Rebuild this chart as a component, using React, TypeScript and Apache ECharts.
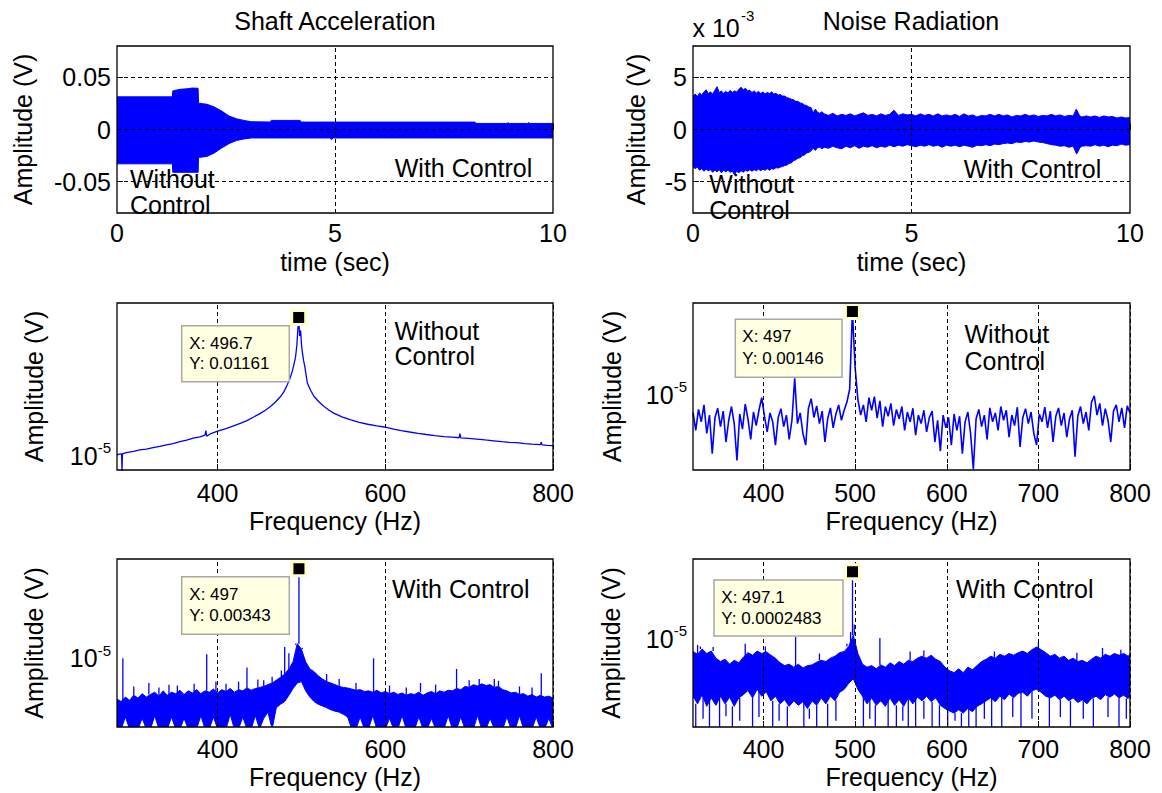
import React, { useEffect, useRef } from 'react';
import * as echarts from 'echarts';

const BLUE = '#0000ff';
const FONT_FAMILY = '"Liberation Sans", Arial, Helvetica, sans-serif';
const FS = 25;

// ---------- layout of the six axes boxes (pixels) ----------
const GRIDS = [
  { left: 117, top: 46, width: 436, height: 167 },
  { left: 693, top: 46, width: 437, height: 167 },
  { left: 117, top: 303, width: 436, height: 167 },
  { left: 693, top: 303, width: 437, height: 167 },
  { left: 117, top: 559, width: 436, height: 168 },
  { left: 693, top: 559, width: 437, height: 168 },
];

// ---------- tick labels ----------
const TIME_TICKS = [0, 5, 10];
const SHAFT_Y_TICKS = [-0.05, 0, 0.05];
const NOISE_Y_TICKS = [-5, 0, 5];
const FREQ_TICKS_LEFT = [400, 600, 800];
const FREQ_TICKS_RIGHT = [400, 500, 600, 700, 800];

// ---------- Shaft acceleration, time signal envelope [t (s), V] ----------
const SHAFT_UPPER = [
  [0, 0.0313], [1.27, 0.0313], [1.28, 0.037], [1.45, 0.0385], [1.6, 0.039], [1.72, 0.0397], [1.86, 0.0395],
  [1.87, 0.0252], [2.06, 0.0242], [2.23, 0.0216], [2.4, 0.0177], [2.57, 0.0129], [2.74, 0.0103], [2.91, 0.0087],
  [3.08, 0.0074], [3.5, 0.0072], [3.54, 0.0087], [4.2, 0.0087], [4.22, 0.0071], [8.2, 0.0071], [8.25, 0.0058],
  [8.95, 0.0058], [8.97, 0.0066], [9.0, 0.0058], [9.42, 0.0058], [9.44, 0.0066], [9.47, 0.0058], [10, 0.0058],
];
const SHAFT_LOWER = [
  [0, -0.0329], [1.27, -0.0329], [1.28, -0.041], [1.86, -0.041], [1.87, -0.0268], [2.06, -0.0258],
  [2.23, -0.0226], [2.4, -0.0177], [2.57, -0.0135], [2.74, -0.0106], [2.91, -0.009], [3.08, -0.0081],
  [4.88, -0.0081], [4.92, -0.0097], [4.96, -0.0081], [10, -0.0081],
];

// ---------- Noise radiation, time signal envelope [t (s), V x 1e-3] ----------
const NOISE_UPPER = [
  [0, 3.2], [0.05, 3.4], [0.1, 3.15], [0.15, 3.5], [0.2, 3.3], [0.25, 3.6], [0.3, 3.8], [0.35, 3.45],
  [0.4, 3.6], [0.45, 3.4], [0.5, 3.75], [0.55, 4.1], [0.6, 3.55], [0.65, 3.7], [0.7, 3.45], [0.75, 3.65],
  [0.8, 3.5], [0.85, 3.75], [0.9, 3.55], [0.95, 3.7], [1.0, 3.6], [1.05, 3.85], [1.1, 4.05], [1.15, 3.8],
  [1.2, 3.95], [1.25, 3.7], [1.3, 3.75], [1.35, 3.55], [1.4, 3.7], [1.45, 3.5], [1.5, 3.65], [1.55, 3.45],
  [1.6, 3.6], [1.65, 3.4], [1.7, 3.55], [1.75, 3.45], [1.8, 3.6], [1.85, 3.4], [1.9, 3.45], [1.95, 3.3],
  [2.0, 3.35], [2.05, 3.2], [2.1, 3.2], [2.15, 3.05], [2.2, 3.0], [2.25, 2.9], [2.3, 2.85], [2.35, 2.7],
  [2.4, 2.7], [2.45, 2.55], [2.5, 2.5], [2.55, 2.35], [2.6, 2.3], [2.65, 2.15], [2.7, 2.1], [2.75, 1.6],
  [2.8, 1.95], [2.85, 1.65], [2.9, 1.55], [2.95, 1.7], [3.0, 1.5],
  [3.1, 1.35], [3.2, 1.55], [3.3, 1.3], [3.4, 1.45], [3.5, 1.35], [3.6, 1.5], [3.7, 1.3], [3.8, 1.45],
  [3.9, 1.6], [4.0, 1.35], [4.1, 1.45], [4.2, 1.3], [4.3, 1.5], [4.4, 1.35], [4.5, 1.45], [4.6, 1.85],
  [4.7, 1.35], [4.8, 1.5], [4.9, 1.4], [5.0, 1.45], [5.1, 1.3], [5.2, 1.5], [5.3, 1.35], [5.4, 1.45],
  [5.5, 1.3], [5.6, 1.5], [5.7, 1.3], [5.8, 1.4], [5.9, 1.3], [6.0, 1.45], [6.1, 1.25], [6.2, 1.5],
  [6.3, 1.3], [6.4, 1.4], [6.5, 1.2], [6.6, 1.35], [6.7, 1.3], [6.8, 1.45], [6.9, 1.3], [7.0, 1.45],
  [7.1, 1.3], [7.2, 1.4], [7.3, 1.2], [7.4, 1.35], [7.5, 1.3], [7.6, 1.45], [7.7, 1.3], [7.8, 1.4],
  [7.9, 1.25], [8.0, 1.35], [8.1, 1.3], [8.2, 1.45], [8.3, 1.3], [8.4, 1.4], [8.5, 1.25], [8.6, 1.35],
  [8.7, 1.3], [8.77, 1.95], [8.85, 1.3], [8.9, 1.2], [9.0, 1.3], [9.1, 1.2], [9.2, 1.3], [9.3, 1.15],
  [9.4, 1.3], [9.5, 1.2], [9.6, 1.25], [9.7, 1.1], [9.8, 1.2], [9.9, 1.1], [10, 1.15],
];
const NOISE_LOWER = [
  [0, -3.55], [0.05, -3.75], [0.1, -3.6], [0.15, -3.9], [0.2, -3.75], [0.25, -4.0], [0.3, -3.8],
  [0.35, -3.95], [0.4, -3.85], [0.45, -4.1], [0.5, -3.9], [0.55, -4.05], [0.6, -3.85], [0.65, -4.15],
  [0.7, -3.9], [0.75, -4.05], [0.8, -3.9], [0.85, -4.1], [0.9, -4.0], [0.95, -4.35], [1.0, -4.0],
  [1.05, -4.15], [1.1, -3.95], [1.15, -4.1], [1.2, -3.9], [1.25, -4.0], [1.3, -3.85], [1.35, -4.0],
  [1.4, -3.85], [1.45, -3.95], [1.5, -3.8], [1.55, -3.95], [1.6, -3.8], [1.65, -3.9], [1.7, -3.75],
  [1.75, -3.9], [1.8, -3.75], [1.85, -3.8], [1.9, -3.65], [1.95, -3.7], [2.0, -3.6], [2.05, -3.55],
  [2.1, -3.45], [2.15, -3.4], [2.2, -3.25], [2.25, -3.2], [2.3, -3.0], [2.35, -2.9], [2.4, -2.75],
  [2.45, -2.7], [2.5, -2.5], [2.55, -2.45], [2.6, -2.25], [2.65, -2.2], [2.7, -2.05], [2.75, -1.8],
  [2.8, -2.0], [2.85, -1.75], [2.9, -1.7], [2.95, -1.85], [3.0, -1.7],
  [3.1, -1.8], [3.2, -1.6], [3.3, -1.75], [3.4, -1.85], [3.5, -1.6], [3.6, -1.75], [3.7, -1.55],
  [3.8, -1.8], [3.9, -1.6], [4.0, -1.7], [4.1, -1.55], [4.2, -1.75], [4.3, -1.6], [4.4, -1.7],
  [4.5, -1.5], [4.6, -1.65], [4.7, -1.5], [4.8, -1.6], [4.9, -1.45], [5.0, -1.55], [5.1, -1.65],
  [5.2, -1.5], [5.3, -1.6], [5.4, -1.45], [5.5, -1.6], [5.6, -1.5], [5.7, -1.7], [5.8, -1.5],
  [5.9, -1.6], [6.0, -1.5], [6.1, -1.65], [6.2, -1.5], [6.3, -1.6], [6.4, -1.7], [6.5, -1.5],
  [6.6, -1.55], [6.7, -1.45], [6.8, -1.55], [6.9, -1.4], [7.0, -1.45], [7.1, -1.35], [7.2, -1.3],
  [7.3, -1.35], [7.4, -1.2], [7.5, -1.25], [7.6, -1.15], [7.7, -1.2], [7.8, -1.1], [7.9, -1.2],
  [8.0, -1.25], [8.1, -1.35], [8.2, -1.45], [8.3, -1.5], [8.4, -1.6], [8.5, -1.55], [8.6, -1.7],
  [8.7, -1.6], [8.78, -2.35], [8.86, -1.7], [8.9, -1.6], [9.0, -1.55], [9.1, -1.6], [9.2, -1.45],
  [9.3, -1.6], [9.4, -1.5], [9.5, -1.65], [9.6, -1.5], [9.7, -1.55], [9.8, -1.4], [9.9, -1.5], [10, -1.45],
];

// ---------- Shaft spectrum, without control [Hz, V] ----------
const SA_WO_FREQ = [
  280, 283, 285.5, 286, 286.5, 291, 300, 307, 315, 323, 331, 339, 347, 355, 363, 371, 379, 385, 386, 387,
  392, 400, 410, 419, 427, 435, 443, 451, 457, 463, 469, 475, 479, 483, 486, 489, 491, 493, 494.5, 495.5,
  496.7, 497.8, 499, 500, 501, 502.5, 504, 507, 511, 515, 521, 527, 533, 539, 549, 559, 569, 579, 590, 601,
  610, 619, 629, 639, 649, 659, 670, 680, 688, 689, 690, 699, 709, 719, 729, 739, 748, 757, 766, 775,
  785, 786, 787, 793, 800,
];
const SA_WO_AMP = [
  1.04e-5, 1.08e-5, 1.1e-5, 4.5e-6, 1.1e-5, 1.17e-5, 1.24e-5, 1.34e-5, 1.4e-5, 1.51e-5, 1.6e-5, 1.73e-5,
  1.86e-5, 2.05e-5, 2.22e-5, 2.44e-5, 2.62e-5, 2.85e-5, 3.6e-5, 2.7e-5, 3.1e-5, 3.5e-5, 4.0e-5, 4.57e-5,
  5.2e-5, 6.0e-5, 7.2e-5, 8.7e-5, 1.02e-4, 1.23e-4, 1.55e-4, 2.05e-4, 2.6e-4, 3.7e-4, 5.0e-4, 7.4e-4,
  1.05e-3, 1.58e-3, 2.8e-3, 5.7e-3, 1.161e-2, 4.5e-3, 6.0e-3, 3.0e-3, 2.0e-3, 1.3e-3, 9.5e-4, 4.1e-4,
  2.8e-4, 2.05e-4, 1.55e-4, 1.23e-4, 1.02e-4, 8.7e-5, 7.2e-5, 6.2e-5, 5.5e-5, 4.98e-5, 4.6e-5, 4.27e-5,
  3.9e-5, 3.6e-5, 3.35e-5, 3.14e-5, 2.95e-5, 2.78e-5, 2.66e-5, 2.58e-5, 2.5e-5, 3.1e-5, 2.48e-5, 2.43e-5,
  2.33e-5, 2.23e-5, 2.14e-5, 2.05e-5, 1.98e-5, 1.94e-5, 1.86e-5, 1.8e-5, 1.75e-5, 2.0e-5, 1.74e-5, 1.7e-5,
  1.67e-5,
];

// ---------- Noise spectrum, without control: bins from 323 Hz every 3 Hz [V] ----------
const NR_WO_F0 = 323;
const NR_WO_DF = 3;
const NR_WO_AMP = [
  3.5e-6, 1.2e-6, 4.2e-6, 2.0e-6, 5.5e-6, 1.0e-6, 3.0e-6, 3.0e-7, 2.6e-6, 4.5e-6,
  1.5e-6, 3.8e-6, 6.0e-7, 2.2e-6, 5.0e-6, 1.8e-6, 2.0e-7, 3.2e-6, 1.3e-6, 5.8e-6,
  2.4e-6, 7.0e-7, 3.6e-6, 1.6e-6, 4.0e-6, 8.5e-6, 2.8e-6, 1.1e-6, 3.4e-6, 2.0e-6,
  5.0e-7, 2.6e-6, 4.4e-6, 1.5e-6, 3.0e-6, 7.0e-7, 2.2e-6, 2.7e-5, 1.8e-6, 3.4e-6,
  1.0e-6, 5.0e-7, 4.5e-6, 8.0e-6, 2.6e-6, 5.2e-6, 1.8e-6, 3.8e-6, 6.0e-7, 2.4e-6,
  4.6e-6, 1.4e-6, 3.2e-6, 5.5e-6, 2.2e-6, 4.0e-6, 6.5e-6, 1.4e-5, 1.46e-3, 5.0e-5,
  7.5e-6, 3.0e-6, 5.5e-6, 2.0e-6, 8.5e-6, 4.0e-6, 9.0e-6, 2.5e-6, 7.0e-6, 1.5e-6,
  5.0e-6, 2.8e-6, 6.0e-6, 1.6e-6, 4.2e-6, 2.4e-6, 5.0e-6, 1.2e-6, 3.6e-6, 2.0e-6,
  4.5e-6, 9.0e-7, 3.0e-6, 1.8e-6, 4.0e-6, 1.1e-6, 2.6e-6, 3.8e-6, 6.0e-7, 2.2e-6,
  3.5e-7, 3.0e-6, 1.4e-6, 2.6e-6, 5.0e-7, 3.2e-6, 1.2e-6, 2.8e-6, 3.0e-7, 2.0e-6,
  3.6e-6, 1.0e-6, 1.2e-7, 2.4e-6, 4.2e-6, 1.5e-6, 3.0e-6, 7.0e-7, 4.6e-6, 2.0e-6,
  3.4e-6, 1.2e-6, 5.0e-6, 2.2e-6, 4.0e-6, 8.0e-7, 3.0e-6, 1.6e-6, 4.8e-6, 4.5e-7,
  2.6e-6, 4.4e-6, 1.8e-6, 3.6e-6, 1.0e-6, 5.0e-7, 3.2e-6, 2.0e-6, 4.8e-6, 1.4e-6,
  3.8e-6, 6.0e-7, 2.8e-6, 4.6e-6, 1.6e-6, 3.4e-6, 8.0e-7, 2.4e-6, 4.0e-6, 2.5e-7,
  2.8e-6, 5.0e-6, 1.8e-6, 3.6e-6, 1.2e-6, 6.5e-6, 9.5e-6, 3.0e-6, 6.0e-6, 1.6e-6,
  4.4e-6, 2.2e-6, 6.0e-7, 3.8e-6, 5.5e-6, 2.0e-6, 4.6e-6, 1.4e-6, 5.2e-6, 3.4e-6,
];

// ---------- Shaft spectrum, with control: band from 280 Hz every 5 Hz [V] ----------
const SA_WC_F0 = 280;
const SA_WC_DF = 5;
const SA_WC_UPPER = [
  7.0e-7, 6.0e-7, 8.0e-7, 6.5e-7, 9.0e-7, 7.5e-7, 1.0e-6, 8.0e-7, 9.5e-7, 1.1e-6,
  8.5e-7, 1.2e-6, 9.0e-7, 1.1e-6, 1.0e-6, 1.25e-6, 9.5e-7, 1.2e-6, 1.05e-6, 1.3e-6,
  1.0e-6, 1.2e-6, 1.1e-6, 1.35e-6, 1.05e-6, 1.3e-6, 1.15e-6, 1.4e-6, 1.1e-6, 1.3e-6,
  1.2e-6, 1.45e-6, 1.25e-6, 1.4e-6, 1.5e-6, 1.6e-6, 1.8e-6, 2.0e-6, 2.4e-6, 2.9e-6,
  3.6e-6, 5.0e-6, 8.0e-6, 2.6e-5, 1.8e-5, 8.0e-6, 5.0e-6, 4.2e-6, 3.2e-6, 2.6e-6,
  2.2e-6, 2.0e-6, 1.8e-6, 1.6e-6, 1.5e-6, 1.45e-6, 1.35e-6, 1.25e-6, 1.3e-6, 1.15e-6,
  1.2e-6, 1.1e-6, 1.25e-6, 1.05e-6, 1.15e-6, 1.0e-6, 1.1e-6, 9.5e-7, 1.05e-6, 9.0e-7,
  1.0e-6, 9.5e-7, 1.1e-6, 9.0e-7, 1.05e-6, 1.15e-6, 1.0e-6, 1.2e-6, 1.1e-6, 1.25e-6,
  1.2e-6, 1.4e-6, 1.3e-6, 1.6e-6, 1.5e-6, 1.8e-6, 1.65e-6, 1.9e-6, 1.7e-6, 1.8e-6,
  1.5e-6, 1.6e-6, 1.3e-6, 1.2e-6, 1.05e-6, 1.1e-6, 9.5e-7, 1.0e-6, 8.5e-7, 9.5e-7,
  8.0e-7, 9.0e-7, 8.0e-7, 8.5e-7, 7.5e-7,
];
const SA_WC_LOWER = [
  1e-7, 1e-7, 2.2e-7, 1e-7, 1e-7, 1e-7, 2.0e-7, 1e-7, 1e-7, 2.4e-7,
  1e-7, 1e-7, 1e-7, 2.2e-7, 1e-7, 1e-7, 2.0e-7, 1e-7, 1e-7, 1e-7,
  2.4e-7, 1e-7, 1e-7, 2.2e-7, 1e-7, 1e-7, 1e-7, 2.6e-7, 1e-7, 1e-7,
  2.2e-7, 1e-7, 1e-7, 2.4e-7, 1e-7, 2.0e-7, 3.0e-7, 1e-7, 4.0e-7, 5.0e-7,
  6.0e-7, 9.0e-7, 1.4e-6, 2.0e-6, 2.2e-6, 1.2e-6, 8.0e-7, 6.0e-7, 5.0e-7, 4.5e-7,
  4.0e-7, 3.5e-7, 3.2e-7, 3.0e-7, 2.6e-7, 2.2e-7, 1e-7, 1e-7, 2.2e-7, 1e-7,
  1e-7, 2.4e-7, 1e-7, 1e-7, 1e-7, 2.0e-7, 1e-7, 1e-7, 2.4e-7, 1e-7,
  1e-7, 1e-7, 2.2e-7, 1e-7, 1e-7, 2.0e-7, 1e-7, 1e-7, 1e-7, 2.4e-7,
  1e-7, 1e-7, 2.2e-7, 1e-7, 1e-7, 1e-7, 2.4e-7, 1e-7, 1e-7, 2.0e-7,
  1e-7, 1e-7, 1e-7, 2.2e-7, 1e-7, 1e-7, 2.4e-7, 1e-7, 1e-7, 1e-7,
  2.2e-7, 1e-7, 1e-7, 2.0e-7, 1e-7,
];
const SA_WC_SPIKES = [
  [287, 1.0e-5], [300, 1.6e-6], [318, 2.0e-6], [330, 1.5e-6], [342, 1.8e-6], [352, 1.7e-6], [372, 1.9e-6],
  [387, 1.3e-5], [398, 2.2e-6], [410, 1.9e-6], [425, 2.2e-6], [435, 5.5e-6], [448, 2.5e-6], [455, 2.4e-6],
  [465, 3.0e-6], [476, 4.5e-6], [480, 2.1e-5], [485, 1.4e-5], [493, 2.4e-5], [497, 3.43e-3], [501, 2.0e-5],
  [530, 3.6e-6], [545, 2.6e-6], [565, 2.0e-6], [586, 1.0e-5], [605, 1.7e-6], [625, 1.5e-6], [642, 2.0e-6],
  [660, 1.8e-6], [685, 5.0e-6], [700, 2.4e-6], [712, 2.6e-6], [730, 2.6e-6], [735, 2.3e-6], [760, 1.6e-6],
  [775, 1.5e-6], [786, 3.8e-6],
];

// ---------- Noise spectrum, with control: band from 323 Hz every 5 Hz [V] ----------
const NR_WC_F0 = 323;
const NR_WC_DF = 5;
const NR_WC_UPPER = [
  5.5e-6, 4.8e-6, 6.2e-6, 5.0e-6, 5.6e-6, 4.0e-6, 3.4e-6, 3.8e-6, 3.0e-6, 3.6e-6,
  3.2e-6, 4.2e-6, 5.2e-6, 4.6e-6, 5.6e-6, 5.0e-6, 5.4e-6, 4.6e-6, 4.0e-6, 3.2e-6,
  2.8e-6, 3.0e-6, 2.6e-6, 3.0e-6, 2.5e-6, 2.8e-6, 2.9e-6, 3.3e-6, 3.6e-6, 3.4e-6,
  4.0e-6, 4.4e-6, 5.2e-6, 5.5e-6, 7.0e-6, 1.2e-5, 5.0e-6, 3.0e-6, 2.6e-6, 2.8e-6,
  2.4e-6, 2.9e-6, 2.6e-6, 3.2e-6, 2.8e-6, 3.4e-6, 3.0e-6, 3.6e-6, 3.4e-6, 4.0e-6,
  4.4e-6, 4.0e-6, 4.6e-6, 3.8e-6, 3.4e-6, 2.6e-6, 2.2e-6, 2.0e-6, 2.4e-6, 2.0e-6,
  2.6e-6, 2.3e-6, 2.8e-6, 3.4e-6, 3.8e-6, 4.4e-6, 4.0e-6, 4.8e-6, 4.4e-6, 5.0e-6,
  4.6e-6, 5.2e-6, 5.6e-6, 5.0e-6, 6.0e-6, 6.8e-6, 6.0e-6, 5.2e-6, 4.4e-6, 4.8e-6,
  4.0e-6, 4.4e-6, 3.6e-6, 4.0e-6, 3.4e-6, 3.6e-6, 3.2e-6, 3.8e-6, 4.4e-6, 4.0e-6,
  4.8e-6, 4.4e-6, 5.0e-6, 4.6e-6, 5.0e-6, 4.4e-6, 4.8e-6,
];
const NR_WC_LOWER = [
  6.5e-7, 4.5e-7, 7.0e-7, 4.0e-7, 6.0e-7, 4.2e-7, 6.5e-7, 4.5e-7, 6.2e-7, 4.0e-7,
  6.0e-7, 7.0e-7, 8.5e-7, 6.0e-7, 9.0e-7, 6.5e-7, 8.0e-7, 5.2e-7, 6.5e-7, 4.5e-7,
  5.5e-7, 4.0e-7, 5.2e-7, 4.2e-7, 5.0e-7, 3.6e-7, 5.2e-7, 4.2e-7, 6.0e-7, 4.5e-7,
  6.5e-7, 5.2e-7, 7.8e-7, 9.0e-7, 1.2e-6, 1.5e-6, 9.0e-7, 6.5e-7, 4.5e-7, 6.0e-7,
  4.2e-7, 5.2e-7, 4.0e-7, 6.0e-7, 4.2e-7, 5.5e-7, 4.0e-7, 6.0e-7, 4.5e-7, 6.2e-7,
  5.2e-7, 6.5e-7, 5.0e-7, 6.0e-7, 4.2e-7, 3.6e-7, 3.2e-7, 2.9e-7, 3.4e-7, 2.9e-7,
  3.6e-7, 3.1e-7, 4.0e-7, 4.5e-7, 5.2e-7, 6.0e-7, 5.0e-7, 6.5e-7, 5.5e-7, 7.2e-7,
  6.0e-7, 7.5e-7, 7.8e-7, 6.5e-7, 8.5e-7, 9.0e-7, 7.8e-7, 6.5e-7, 6.0e-7, 6.8e-7,
  5.5e-7, 6.5e-7, 5.2e-7, 6.0e-7, 4.8e-7, 5.5e-7, 4.5e-7, 5.8e-7, 6.5e-7, 5.5e-7,
  7.0e-7, 6.2e-7, 7.2e-7, 6.0e-7, 6.8e-7, 5.8e-7, 6.5e-7,
];
const NR_WC_SPIKES = [
  [328, 7.5e-6], [331, 7.0e-6], [345, 6.8e-6], [380, 8.0e-6], [402, 7.0e-6], [435, 1.1e-5], [461, 5.0e-6],
  [491, 8.0e-6], [495, 1.4e-5], [497.1, 2.483e-4], [499, 2.0e-5], [527, 1.05e-5], [560, 5.5e-6],
  [575, 5.8e-6], [652, 5.5e-6], [700, 8.5e-6], [742, 5.2e-6], [770, 6.5e-6], [790, 6.0e-6],
];
const NR_WC_DIPS = [
  [326, 1e-7], [334, 2.2e-7], [341, 1e-7], [352, 1e-7], [359, 2.5e-7], [366, 1e-7], [374, 2.0e-7],
  [388, 1e-7], [395, 2.4e-7], [410, 1e-7], [417, 2.0e-7], [426, 1e-7], [444, 1e-7], [450, 2.2e-7],
  [458, 1e-7], [470, 1e-7], [479, 2.0e-7], [509, 1e-7], [516, 2.2e-7], [522, 1e-7], [536, 1e-7],
  [545, 1e-7], [552, 2.0e-7], [558, 1e-7], [566, 1e-7], [575, 2.2e-7], [584, 1e-7], [592, 1e-7],
  [601, 1e-7], [609, 2.0e-7], [616, 1e-7], [624, 1e-7], [632, 1e-7], [641, 2.2e-7], [649, 1e-7],
  [660, 1e-7], [672, 2.4e-7], [681, 1e-7], [693, 2.2e-7], [712, 1e-7], [724, 2.4e-7], [735, 1e-7],
  [749, 2.2e-7], [760, 1e-7], [776, 2.4e-7], [788, 1e-7], [796, 2.2e-7],
];

// ---------- data tips [Hz, V] ----------
const DATATIPS = [
  { grid: 2, x: 496.7, y: 0.01161, label: ['X: 496.7', 'Y: 0.01161'] },
  { grid: 3, x: 497, y: 0.00146, label: ['X: 497', 'Y: 0.00146'] },
  { grid: 4, x: 497, y: 0.00343, label: ['X: 497', 'Y: 0.00343'] },
  { grid: 5, x: 497.1, y: 0.0002483, label: ['X: 497.1', 'Y: 0.0002483'] },
];

// ---------- helpers ----------
const AXIS_TEXT = { color: '#000', fontSize: FS, fontFamily: FONT_FAMILY };

function gridFromGrid(arr: number[], f0: number, df: number, max: number) {
  return arr.map((v, i) => [Math.min(f0 + i * df, max), v]);
}

function xAxisOf(gi: number, min: number, max: number, ticks: number[], name: string, margin: number, nameGap: number) {
  return {
    type: 'value', gridIndex: gi, min, max,
    name, nameLocation: 'middle', nameGap, nameTextStyle: AXIS_TEXT,
    axisLine: { show: false },
    axisTick: { show: true, inside: true, length: 6, customValues: ticks, lineStyle: { color: '#000', width: 1 } },
    axisLabel: { customValues: ticks, margin, ...AXIS_TEXT },
    splitLine: { show: false },
  };
}

function yLinearOf(gi: number, min: number, max: number, ticks: number[], nameGap: number) {
  return {
    type: 'value', gridIndex: gi, min, max,
    name: 'Amplitude (V)', nameLocation: 'middle', nameRotate: 90, nameGap, nameTextStyle: AXIS_TEXT,
    axisLine: { show: false },
    axisTick: { show: true, inside: true, length: 6, customValues: ticks, lineStyle: { color: '#000', width: 1 } },
    axisLabel: { customValues: ticks, margin: 6, ...AXIS_TEXT, formatter: (v: number) => (v === 0 ? '0' : String(v)) },
    splitLine: { show: false },
  };
}

function yLogOf(gi: number, min: number, max: number, nameGap: number) {
  return {
    type: 'log', logBase: 10, gridIndex: gi, min, max,
    name: 'Amplitude (V)', nameLocation: 'middle', nameRotate: 90, nameGap, nameTextStyle: AXIS_TEXT,
    axisLine: { show: false },
    axisTick: { show: false },
    minorTick: { show: false },
    splitLine: { show: false },
    axisLabel: {
      margin: 6, color: '#000', fontFamily: FONT_FAMILY,
      formatter: (v: number) => (Math.abs(Math.log10(v) + 5) < 1e-6 ? '{b|10}{s|-5}' : ''),
      rich: {
        b: { fontSize: FS, fontFamily: FONT_FAMILY, color: '#000' },
        s: { fontSize: 15, fontFamily: FONT_FAMILY, color: '#000', padding: [0, 0, 16, 0] },
      },
    },
  };
}

function gridLines(gi: number, xs: number[], ys: number[]) {
  return {
    type: 'line', xAxisIndex: gi, yAxisIndex: gi, data: [], z: 1, silent: true,
    markLine: {
      silent: true, symbol: ['none', 'none'], label: { show: false },
      lineStyle: { color: '#000', type: [4, 3], width: 1 },
      emphasis: { disabled: true },
      data: [...xs.map((x) => ({ xAxis: x })), ...ys.map((y) => ({ yAxis: y }))],
    },
  };
}

function bandSeries(gi: number, upper: number[][], lower: number[][]) {
  return {
    type: 'custom', xAxisIndex: gi, yAxisIndex: gi, clip: true, silent: true, z: 2,
    data: [upper[0]],
    renderItem: (_p: any, api: any) => {
      const pts: number[][] = [];
      for (let i = 0; i < upper.length; i++) pts.push(api.coord(upper[i]));
      for (let i = lower.length - 1; i >= 0; i--) pts.push(api.coord(lower[i]));
      return { type: 'polygon', shape: { points: pts }, style: { fill: BLUE, stroke: BLUE, lineWidth: 1 } };
    },
  };
}

function spikeSeries(gi: number, spikes: number[][], base: number[], f0: number, df: number) {
  return {
    type: 'custom', xAxisIndex: gi, yAxisIndex: gi, clip: true, silent: true, z: 3,
    data: spikes,
    renderItem: (_p: any, api: any) => {
      const f = api.value(0);
      const v = api.value(1);
      const idx = Math.max(0, Math.min(base.length - 1, Math.round((f - f0) / df)));
      const p0 = api.coord([f, base[idx]]);
      const p1 = api.coord([f, v]);
      return { type: 'line', shape: { x1: p0[0], y1: p0[1], x2: p1[0], y2: p1[1] }, style: { stroke: BLUE, lineWidth: 1.3 } };
    },
  };
}

function lineSeries(gi: number, data: number[][], width: number) {
  return {
    type: 'line', xAxisIndex: gi, yAxisIndex: gi, data, showSymbol: false, symbol: 'none', clip: true,
    silent: true, z: 2, lineStyle: { color: BLUE, width }, emphasis: { disabled: true },
  };
}

function markerSeries(gi: number, x: number, y: number) {
  return {
    type: 'scatter', xAxisIndex: gi, yAxisIndex: gi, data: [[x, y]], symbol: 'rect', symbolSize: 14,
    silent: true, z: 6, itemStyle: { color: '#000', borderColor: '#ffffc8', borderWidth: 3, opacity: 1 },
  };
}

function txt(text: string, x: number, y: number, align = 'left', size = FS) {
  return {
    type: 'text', x, y, z: 100, silent: true,
    style: {
      text, fill: '#000', font: `${size}px ${FONT_FAMILY}`,
      textAlign: align, textVerticalAlign: 'middle', align, verticalAlign: 'middle',
    },
  };
}

const TIP_BOXES = [
  { x: 181.7, y: 325.7, w: 107.6, h: 56, tx: 189.3, ty: [343.3, 363.3] },
  { x: 735.3, y: 319.3, w: 106.7, h: 58, tx: 742.3, ty: [336.7, 358.3] },
  { x: 181.7, y: 576.7, w: 107.6, h: 57.6, tx: 189.3, ty: [594.3, 615.7] },
  { x: 714, y: 580, w: 129, h: 56, tx: 721.3, ty: [597.7, 618.3] },
];

function buildOption() {
  const grids = GRIDS.map((g) => ({ ...g, show: false, containLabel: false, outerBoundsMode: 'none' }));

  const xAxis = [
    xAxisOf(0, 0, 10, TIME_TICKS, 'time (sec)', 7, 36),
    xAxisOf(1, 0, 10, TIME_TICKS, 'time (sec)', 7, 36),
    xAxisOf(2, 280, 800, FREQ_TICKS_LEFT, 'Frequency (Hz)', 10, 38),
    xAxisOf(3, 323, 800, FREQ_TICKS_RIGHT, 'Frequency (Hz)', 10, 38),
    xAxisOf(4, 280, 800, FREQ_TICKS_LEFT, 'Frequency (Hz)', 9, 37),
    xAxisOf(5, 323, 800, FREQ_TICKS_RIGHT, 'Frequency (Hz)', 9, 37),
  ];
  const yAxis = [
    yLinearOf(0, -0.08, 0.08, SHAFT_Y_TICKS, 82),
    yLinearOf(1, -8, 8, NOISE_Y_TICKS, 45),
    yLogOf(2, 4.81e-6, 0.0244, 71),
    yLogOf(3, 1.13e-7, 2.41e-3, 69),
    yLogOf(4, 1.14e-7, 6.44e-3, 71),
    yLogOf(5, 1.49e-7, 4.57e-4, 70),
  ];

  const saWcUpper = gridFromGrid(SA_WC_UPPER, SA_WC_F0, SA_WC_DF, 800);
  const saWcLower = gridFromGrid(SA_WC_LOWER, SA_WC_F0, SA_WC_DF, 800);
  const nrWcUpper = gridFromGrid(NR_WC_UPPER, NR_WC_F0, NR_WC_DF, 800);
  const nrWcLower = gridFromGrid(NR_WC_LOWER, NR_WC_F0, NR_WC_DF, 800);

  const series: any[] = [
    gridLines(0, [5], SHAFT_Y_TICKS),
    bandSeries(0, SHAFT_UPPER, SHAFT_LOWER),
    gridLines(1, [5], NOISE_Y_TICKS),
    bandSeries(1, NOISE_UPPER, NOISE_LOWER),
    gridLines(2, FREQ_TICKS_LEFT, [1e-5]),
    lineSeries(2, SA_WO_FREQ.map((f, i) => [f, SA_WO_AMP[i]]), 1.3),
    gridLines(3, FREQ_TICKS_RIGHT, [1e-5]),
    lineSeries(3, NR_WO_AMP.map((v, i) => [NR_WO_F0 + i * NR_WO_DF, v]), 1.6),
    gridLines(4, FREQ_TICKS_LEFT, [1e-5]),
    bandSeries(4, saWcUpper, saWcLower),
    spikeSeries(4, SA_WC_SPIKES, SA_WC_UPPER, SA_WC_F0, SA_WC_DF),
    gridLines(5, FREQ_TICKS_RIGHT, [1e-5]),
    bandSeries(5, nrWcUpper, nrWcLower),
    spikeSeries(5, NR_WC_SPIKES, NR_WC_UPPER, NR_WC_F0, NR_WC_DF),
    spikeSeries(5, NR_WC_DIPS, NR_WC_LOWER, NR_WC_F0, NR_WC_DF),
    ...DATATIPS.map((d) => markerSeries(d.grid, d.x, d.y)),
  ];

  const elements: any[] = [
    ...GRIDS.map((g) => ({
      type: 'rect', z: 90, silent: true,
      shape: { x: g.left, y: g.top, width: g.width, height: g.height },
      style: { fill: 'none', stroke: '#000', lineWidth: 1.3 },
    })),
    txt('Shaft Acceleration', 335, 21, 'center'),
    txt('Noise Radiation', 911, 21, 'center'),
    txt('x 10', 692.5, 28),
    txt('-3', 741, 15, 'left', 15),
    txt('Without', 130, 179),
    txt('Control', 130, 205),
    txt('With Control', 463.5, 167.5, 'center'),
    txt('Without', 709.3, 184),
    txt('Control', 709.3, 210),
    txt('With Control', 1032.5, 169, 'center'),
    txt('Without', 394.5, 330.5),
    txt('Control', 394.5, 356),
    txt('Without', 964.5, 334),
    txt('Control', 964.5, 360.5),
    txt('With Control', 392, 588.5),
    txt('With Control', 956, 588.5),
  ];
  TIP_BOXES.forEach((b, i) => {
    elements.push({
      type: 'rect', z: 95, silent: true,
      shape: { x: b.x, y: b.y, width: b.w, height: b.h },
      style: { fill: '#ffffe1', stroke: '#a8a8a8', lineWidth: 1.5 },
    });
    elements.push(txt(DATATIPS[i].label[0], b.tx, b.ty[0], 'left', 17));
    elements.push(txt(DATATIPS[i].label[1], b.tx, b.ty[1], 'left', 17));
  });

  return {
    animation: false,
    backgroundColor: '#fff',
    textStyle: { fontFamily: FONT_FAMILY },
    grid: grids,
    xAxis,
    yAxis,
    series,
    graphic: { elements },
  };
}

export default function App() {
  const ref = useRef<HTMLDivElement>(null);
  useEffect(() => {
    if (!ref.current) return;
    const chart = echarts.init(ref.current, null, { renderer: 'svg' });
    chart.setOption(buildOption() as any);
    return () => chart.dispose();
  }, []);
  return (
    <div
      ref={ref}
      style={{ position: 'fixed', left: 0, top: 0, width: 1162, height: 793, background: '#fff' }}
    />
  );
}
